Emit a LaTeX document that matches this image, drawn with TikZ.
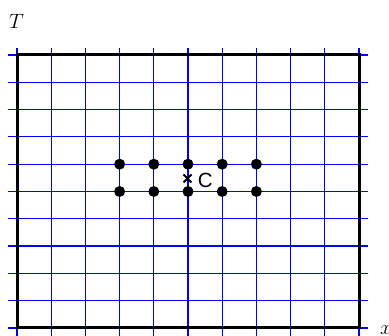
\documentclass[tikz,border=0pt]{standalone}
\usepackage{fontspec}
\newfontfamily\labelfont{Liberation Sans}
\begin{document}
\begin{tikzpicture}[x=1pt,y=-1pt,
  gridline/.style={blue, line width=1.2pt},
  frame/.style={black, line width=3pt},
  dotnode/.style={circle, fill=black, inner sep=0pt, minimum size=11pt},
  crossline/.style={black, line width=2pt},
  axislabel/.style={font=\fontsize{22}{22}\selectfont, inner sep=0pt},
  clabel/.style={font=\labelfont\fontsize{20.5}{20.5}\selectfont, inner sep=0pt}]
\useasboundingbox (0,0) rectangle (389,336);
\foreach \i in {0,...,10} {
  \draw[gridline] ({17+34.2*\i},48) -- ({17+34.2*\i},336);
  \draw[gridline] (8,{55+27.3*\i}) -- (368,{55+27.3*\i});
}
\draw[frame] (17,55) rectangle (359,328);
\foreach \i in {3,...,7} {
  \foreach \j in {4,5} {
    \node[dotnode] (d\i\j) at ({17+34.2*\i},{55+27.3*\j}) {};
  }
}
\coordinate (c) at (187.5,178.5);
\draw[crossline] ([shift={(-4,-4)}]c) -- ([shift={(4,4)}]c);
\draw[crossline] ([shift={(-4,4)}]c) -- ([shift={(4,-4)}]c);
\node[clabel] (cl) at (205.3,180.2) {C};
\node[axislabel] (tl) at (16.5,21) {$T$};
\node[axislabel, anchor=base west] (xl) at (380,335) {$x$};
\end{tikzpicture}
\end{document}
